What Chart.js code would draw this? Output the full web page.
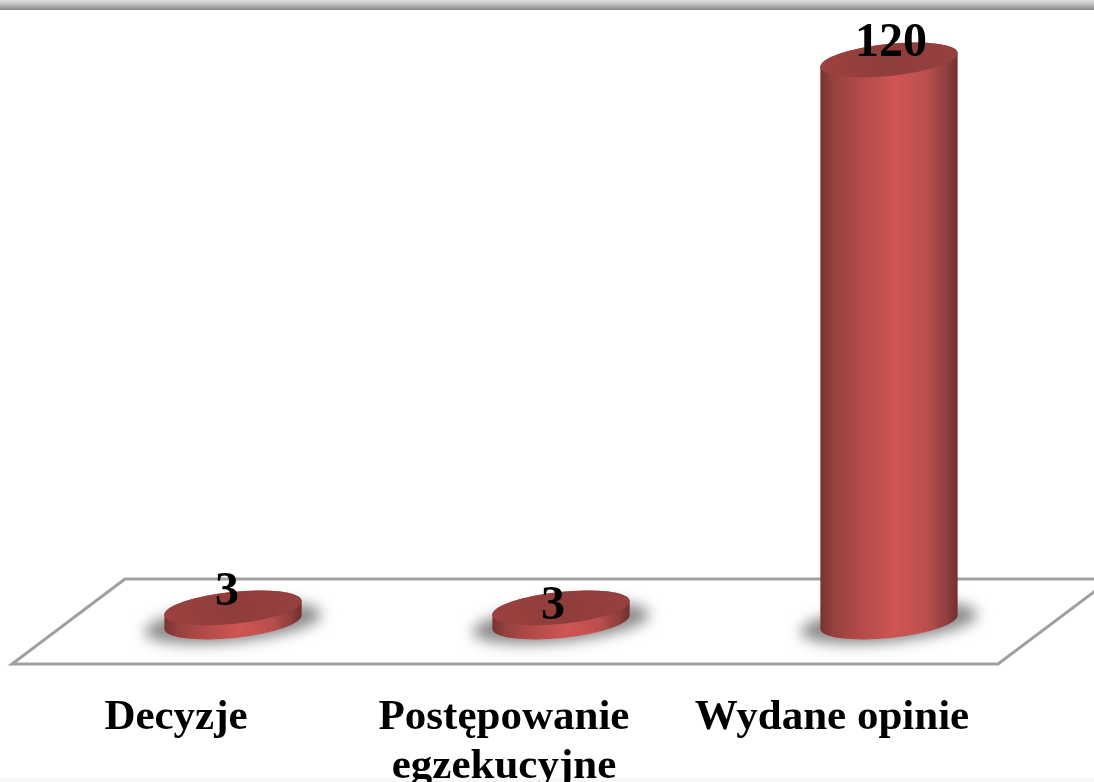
<!DOCTYPE html>
<html>
<head>
<meta charset="utf-8">
<script src="https://cdn.jsdelivr.net/npm/chart.js@4"></script>
<style>
html,body{margin:0;padding:0;width:1094px;height:782px;overflow:hidden;background:#fff}
#top{position:absolute;left:0;top:0;width:1094px;height:10px;background:linear-gradient(#dcdcdc,#c4c4c4 40%,#8a8a8a 95%)}
#bottom{position:absolute;left:0;top:778px;width:1094px;height:4px;background:#f7f7f7}
canvas{position:absolute;left:0;top:0}
</style>
</head>
<body>
<div id="top"></div><div id="bottom"></div>
<canvas id="c" width="1094" height="782"></canvas>
<script>
const categories = [["Decyzje"], ["Postępowanie", "egzekucyjne"], ["Wydane opinie"]];
const seriesValues = [3, 3, 120];
const valueLabelDx = [-6, -8, 2];
const valueLabelDy = [-3, 11, -4];

const TILT = -6 * Math.PI / 180, RY = 16;

function sideGradient(ctx, x, w) {
  const g = ctx.createLinearGradient(x - w / 2, 0, x + w / 2, 0);
  g.addColorStop(0, '#76332f');
  g.addColorStop(0.1, '#96413f');
  g.addColorStop(0.3, '#b44b49');
  g.addColorStop(0.55, '#cf5553');
  g.addColorStop(0.78, '#b94f4d');
  g.addColorStop(0.92, '#8e3e3c');
  g.addColorStop(1, '#722f2d');
  return g;
}

class CylinderController extends Chart.BarController {
  draw() {
    const ctx = this.chart.ctx;
    const bars = this.getMeta().data;
    bars.forEach(b => {
      const p = b.getProps(['x', 'y', 'base', 'width'], true);
      const rx = p.width / 2;
      ctx.save();
      ctx.filter = 'blur(7px)';
      ctx.fillStyle = '#8c8c8c';
      ctx.beginPath();
      ctx.ellipse(p.x, p.base + 1, rx + 20, RY + 3, TILT, 0, Math.PI * 2);
      ctx.fill();
      ctx.restore();

      ctx.fillStyle = sideGradient(ctx, p.x, p.width);
      ctx.beginPath();
      ctx.ellipse(p.x, p.y, rx, RY, TILT, Math.PI, 0, false);
      ctx.ellipse(p.x, p.base, rx, RY, TILT, 0, Math.PI, false);
      ctx.closePath();
      ctx.fill();

      const t = ctx.createLinearGradient(p.x - rx, p.y + RY, p.x + rx, p.y - RY);
      t.addColorStop(0, '#9c4240');
      t.addColorStop(0.5, '#8f3d3b');
      t.addColorStop(1, '#964140');
      ctx.fillStyle = t;
      ctx.beginPath();
      ctx.ellipse(p.x, p.y, rx, RY, TILT, 0, Math.PI * 2);
      ctx.fill();
    });
  }
}
CylinderController.id = 'cylinder';
CylinderController.defaults = Chart.BarController.defaults;
CylinderController.overrides = Chart.BarController.overrides;
Chart.register(CylinderController);

const floorPlugin = {
  id: 'floor',
  beforeDatasetsDraw(chart) {
    const { ctx, chartArea: a } = chart;
    const top = a.bottom - 43, bottom = a.bottom + 42;
    ctx.save();
    ctx.strokeStyle = '#a0a0a0';
    ctx.lineWidth = 3;
    ctx.lineJoin = 'miter';
    ctx.beginPath();
    ctx.moveTo(a.left + 56, top);
    ctx.lineTo(a.left - 57, bottom);
    ctx.lineTo(a.right - 55, bottom);
    ctx.lineTo(a.right + 58, top);
    ctx.closePath();
    ctx.stroke();
    ctx.restore();
  }
};

const valueLabelPlugin = {
  id: 'valueLabels',
  afterDatasetsDraw(chart) {
    const ctx = chart.ctx;
    ctx.save();
    ctx.font = 'bold 48px "Liberation Serif"';
    ctx.fillStyle = '#000';
    ctx.textAlign = 'center';
    ctx.textBaseline = 'alphabetic';
    chart.getDatasetMeta(0).data.forEach((b, i) => {
      ctx.fillText(String(seriesValues[i]), b.x + valueLabelDx[i], b.y + valueLabelDy[i]);
    });
    ctx.restore();
  }
};

new Chart(document.getElementById('c'), {
  type: 'cylinder',
  data: {
    labels: categories,
    datasets: [{ data: seriesValues, barThickness: 138, clip: false }]
  },
  options: {
    responsive: false,
    animation: false,
    events: [],
    layout: { padding: { left: 69, right: 41, top: 60, bottom: 0 } },
    plugins: { legend: { display: false }, tooltip: { enabled: false } },
    scales: {
      x: {
        type: 'category',
        offset: true,
        border: { display: false },
        grid: { display: false, drawTicks: false },
        afterFit(s) { s.height = 160; s.paddingLeft = 0; s.paddingRight = 0; },
        ticks: {
          autoSkip: false,
          maxRotation: 0,
          minRotation: 0,
          labelOffset: -57,
          padding: 71,
          color: '#000',
          font: { family: '"Liberation Serif"', size: 43, weight: 'bold', lineHeight: 1.14 }
        }
      },
      y: { type: 'linear', display: false, min: 0, max: 120, grid: { display: false } }
    }
  },
  plugins: [floorPlugin, valueLabelPlugin]
});
</script>
</body>
</html>
